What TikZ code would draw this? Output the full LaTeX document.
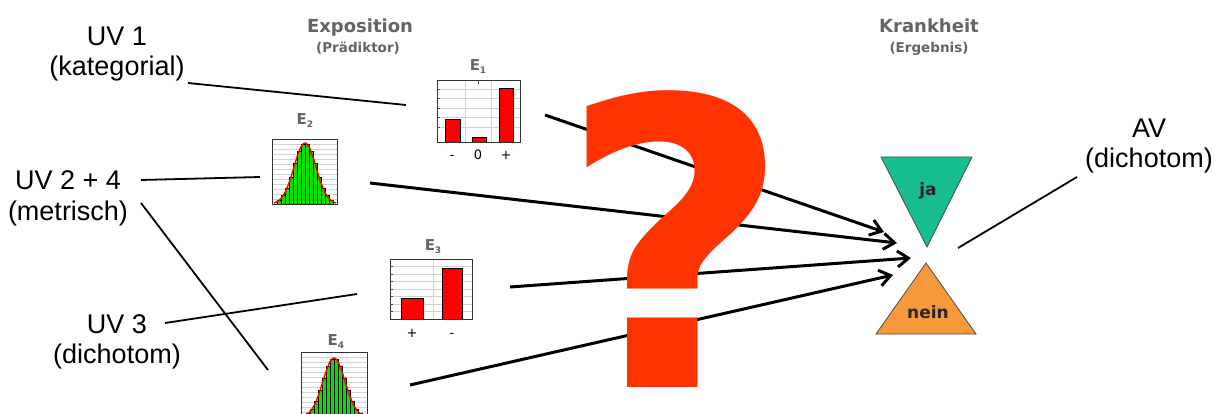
\documentclass[tikz,border=0pt]{standalone}
\usepackage{fontspec}
\setmainfont{Liberation Sans}
\newfontfamily\dvs{DejaVu Sans}
\usetikzlibrary{arrows.meta}
\definecolor{qred}{RGB}{255,51,0}
\definecolor{jagreen}{RGB}{24,190,145}
\definecolor{neinorange}{RGB}{247,152,58}
\definecolor{titlegray}{RGB}{100,100,100}
\definecolor{histgreen}{RGB}{0,225,0}
\newcommand\myhisto[3]{%
  \foreach \k in {-7,...,6} {
    \pgfmathsetmacro\xa{#1+\k*4}
    \pgfmathsetmacro\hh{#3*exp(-(((\k+0.5)*4)^2)/(2*11*11))}
    \filldraw[fill=histgreen, draw=black, line width=0.6pt] (\xa,#2) rectangle (\xa+4,#2-\hh);
  }
  \draw[red, line width=1.4pt] plot[domain=-31:31, samples=60, smooth] ({#1+\x},{#2-#3*exp(-(\x*\x)/(2*11*11))});
}
\begin{document}
\begin{tikzpicture}[x=1pt,y=-1pt,
  lbl/.style={font=\fontsize{27}{30}\selectfont, align=center, anchor=base, inner sep=0pt},
  ttl/.style={font=\dvs\bfseries\fontsize{18}{20}\selectfont, text=titlegray, inner sep=0pt, anchor=base},
  subttl/.style={font=\dvs\bfseries\fontsize{13.5}{15}\selectfont, text=titlegray, inner sep=0pt, anchor=base},
  elabel/.style={font=\dvs\bfseries\fontsize{15}{15}\selectfont, text=titlegray, inner sep=0pt, anchor=base},
  ticklbl/.style={font=\dvs\fontsize{13}{13}\selectfont, inner sep=0pt, anchor=base},
  tritext/.style={font=\dvs\bfseries\fontsize{17}{17}\selectfont, text=black!85, inner sep=0pt, anchor=base},
  thinline/.style={line width=1.8pt},
  arr/.style={line width=3pt, -{Straight Barb[length=11pt,width=16pt]}},
  frame/.style={draw=black!80, line width=0.8pt},
  gridline/.style={draw=black!18, line width=0.8pt},
  redbar/.style={fill=red, draw=black, line width=0.8pt},
  qmark/.style={font=\dvs\bfseries\fontsize{400}{400}\selectfont, text=qred, inner sep=0pt, anchor=base}
]
\useasboundingbox (0,0) rectangle (1215,414);
\fill[white] (0,0) rectangle (1215,414);

% titles
\node[ttl] (exp) at (360,33) {Exposition};
\node[subttl] (pred) at (358,53) {(Prädiktor)};
\node[ttl] (krank) at (929,33) {Krankheit};
\node[subttl] (erg) at (929,53) {(Ergebnis)};

% labels (base = last line's baseline)
\node[lbl] (uv1) at (117,76) {UV 1\\(kategorial)};
\node[lbl] (uv24) at (68,220) {UV 2 + 4\\(metrisch)};
\node[lbl] (uv3) at (117,363) {UV 3\\(dichotom)};
\node[lbl] (av) at (1149,168) {AV\\(dichotom)};

% chart E1
\node[elabel] (e1) at (478,71) {E\raisebox{-3pt}{\fontsize{9}{9}\selectfont 1}};
\foreach \y in {89,98.5,...,134} \draw[gridline] (437,\y) -- (520,\y);
\draw[gridline] (465,80) -- (465,142);
\draw[gridline] (491,80) -- (491,142);
\draw[redbar] (445,142) rectangle (460,119);
\draw[redbar] (472,142) rectangle (486,137);
\draw[redbar] (499,142) rectangle (513,88);
\draw[frame] (437,80) rectangle (520,142);
\foreach \y in {89,98.5,...,134} \draw[black!70,line width=0.6pt] (437,\y) -- (440,\y);
\draw[black!70,line width=0.8pt] (478,80) -- (478,84);
\node[ticklbl] (e1a) at (452,160) {-};
\node[ticklbl] (e1b) at (478,160) {0};
\node[ticklbl] (e1c) at (506,160) {+};

% chart E2
\node[elabel] (e2) at (305,125) {E\raisebox{-3pt}{\fontsize{9}{9}\selectfont 2}};
\foreach \y in {144,149,...,200} \draw[gridline] (272,\y) -- (337,\y);
\myhisto{305}{204}{61}
\draw[frame] (272,139) rectangle (337,204);

% chart E3
\node[elabel] (e3) at (433,250) {E\raisebox{-3pt}{\fontsize{9}{9}\selectfont 3}};
\foreach \y in {266.5,274,...,315} \draw[gridline] (390,\y) -- (472,\y);
\draw[gridline] (433,259) -- (433,319);
\draw[redbar] (401,319) rectangle (423,298);
\draw[redbar] (442,319) rectangle (462,268);
\draw[frame] (390,259) rectangle (472,319);
\foreach \y in {266.5,274,...,315} \draw[black!70,line width=0.6pt] (390,\y) -- (393,\y);
\node[ticklbl] (e3a) at (412,337) {+};
\node[ticklbl] (e3b) at (452,337) {-};

% chart E4
\node[elabel] (e4) at (336,345) {E\raisebox{-3pt}{\fontsize{9}{9}\selectfont 4}};
\foreach \y in {357,362,...,414} \draw[gridline] (301,\y) -- (367,\y);
\myhisto{334}{417}{59}
\draw[frame] (301,352) rectangle (367,417);

% triangles
\coordinate (ja1) at (881,157);
\coordinate (ja2) at (972,157);
\coordinate (ja3) at (927,247);
\filldraw[fill=jagreen, draw=black!70, line width=0.8pt] (ja1) -- (ja2) -- (ja3) -- cycle;
\node[tritext] (ja) at (928,196) {ja};
\coordinate (ne1) at (926,263);
\coordinate (ne2) at (976,334);
\coordinate (ne3) at (876,334);
\filldraw[fill=neinorange, draw=black!70, line width=0.8pt] (ne1) -- (ne2) -- (ne3) -- cycle;
\node[tritext] (nein) at (928,318) {nein};

% connector end points
\coordinate (l1a) at (188,83);   \coordinate (l1b) at (406,105);
\coordinate (l2a) at (141,180);  \coordinate (l2b) at (260,177);
\coordinate (l4a) at (141,203);  \coordinate (l4b) at (268,370);
\coordinate (l3a) at (165,323);  \coordinate (l3b) at (357,294);
\coordinate (lava) at (958,248); \coordinate (lavb) at (1077,177);
\coordinate (a1s) at (545,115);  \coordinate (a1e) at (884,232);
\coordinate (a2s) at (370,183);  \coordinate (a2e) at (897,243);
\coordinate (a3s) at (510,287);  \coordinate (a3e) at (911,258);
\coordinate (a4s) at (410,385);  \coordinate (a4e) at (893,275);

\draw[thinline] (l1a) -- (l1b);
\draw[thinline] (l2a) -- (l2b);
\draw[thinline] (l4a) -- (l4b);
\draw[thinline] (l3a) -- (l3b);
\draw[thinline] (lava) -- (lavb);

\draw[arr] (a1s) -- (a1e);
\draw[arr] (a2s) -- (a2e);
\draw[arr] (a3s) -- (a3e);
\draw[arr] (a4s) -- (a4e);

% question mark
\node[qmark] (q) at (676,387) {?};
\end{tikzpicture}
\end{document}
